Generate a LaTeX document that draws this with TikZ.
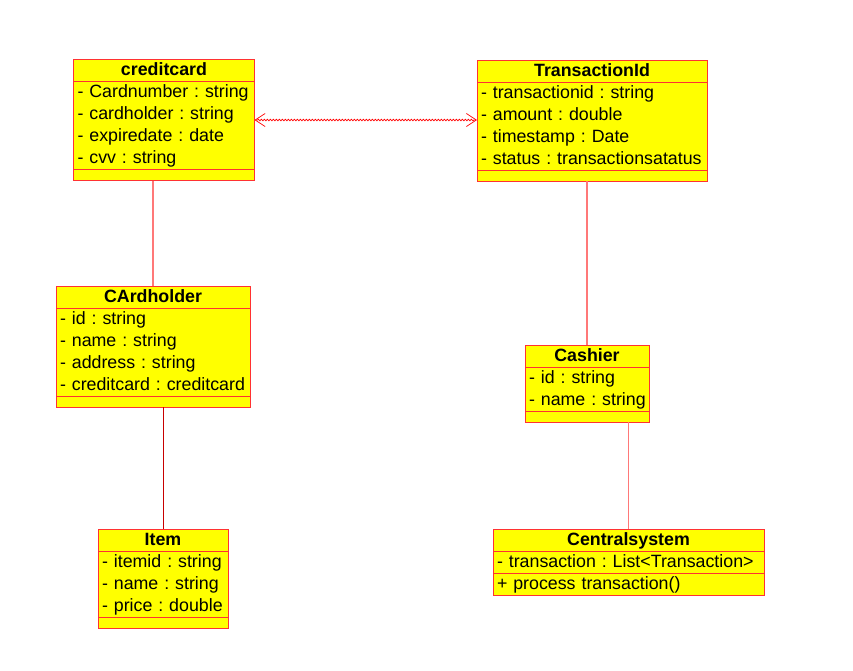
\documentclass[tikz,border=0pt]{standalone}
\usepackage{fontspec}
\setmainfont{Liberation Sans}
\usetikzlibrary{shapes.multipart,arrows.meta,decorations.pathmorphing}

\definecolor{classfill}{RGB}{255,255,0}
\definecolor{classline}{RGB}{255,50,50}
\definecolor{linklight}{RGB}{255,120,120}
\definecolor{linkdark}{RGB}{200,0,0}

% class name line, attribute line, empty compartment
\newcommand{\rowstrut}{\rule[-5.8pt]{0pt}{22pt}}
\newcommand{\cname}[1]{{\bfseries\centering\rowstrut#1\par}}
\newcommand{\row}[1]{\rowstrut\mbox{#1}\par}
\newcommand{\nothing}{\rule{0pt}{11pt}}

\begin{document}
\frenchspacing
\begin{tikzpicture}[x=1pt,y=-1pt,
  umlclass/.style={rectangle split, rectangle split parts=3, draw=classline,
    fill=classfill, line width=1pt, inner xsep=4pt, inner ysep=-0.5pt,
    outer sep=0pt, anchor=north west, text width=#1, align=left,
    font=\fontsize{17.8}{22}\selectfont\frenchspacing},
  link/.style={draw=linklight, line width=1.3pt},
  assoc/.style={draw=red, line width=0.7pt,
    {Straight Barb[length=10pt,width=13pt]}-{Straight Barb[length=10pt,width=13pt]},
    decorate, decoration={snake, amplitude=0.8pt, segment length=3pt,
    pre length=3pt, post length=3pt}}]

\useasboundingbox (0,0) rectangle (853,670);

% ---- Classes ----
\node[umlclass=173pt] (creditcard) at (73.5,59.5)
  {\cname{creditcard}
   \nodepart{two}\row{- Cardnumber : string}\row{- cardholder : string}
   \row{- expiredate : date}\row{- cvv : string}
   \nodepart{three}\nothing};

\node[umlclass=222pt] (transactionid) at (477,60)
  {\cname{TransactionId}
   \nodepart{two}\row{- transactionid : string}\row{- amount : double}
   \row{- timestamp : Date}\row{- status : transactionsatatus}
   \nodepart{three}\nothing};

\node[umlclass=186pt] (cardholder) at (56,286)
  {\cname{CArdholder}
   \nodepart{two}\row{- id : string}\row{- name : string}
   \row{- address : string}\row{- creditcard : creditcard}
   \nodepart{three}\nothing};

\node[umlclass=116pt] (cashier) at (525,345)
  {\cname{Cashier}
   \nodepart{two}\row{- id : string}\row{- name : string}
   \nodepart{three}\nothing};

\node[umlclass=122pt] (item) at (98,529)
  {\cname{Item}
   \nodepart{two}\row{- itemid : string}\row{- name : string}
   \row{- price : double}
   \nodepart{three}\nothing};

\node[umlclass=263pt] (centralsystem) at (493,529)
  {\cname{Centralsystem}
   \nodepart{two}\row{- transaction : List<Transaction>}
   \nodepart{three}\row{+ process transaction()}};

% ---- Links ----
\draw[link] (cardholder.north) -- (cardholder.north |- creditcard.south);
\draw[link, draw=linkdark, line width=1pt] (item.north) -- (item.north |- cardholder.south);
\draw[link] (cashier.north) -- (cashier.north |- transactionid.south);
\draw[link] (centralsystem.north) -- (centralsystem.north |- cashier.south);

% Association
\draw[assoc] (creditcard.east) -- (transactionid.west |- creditcard.east);

\end{tikzpicture}
\end{document}
